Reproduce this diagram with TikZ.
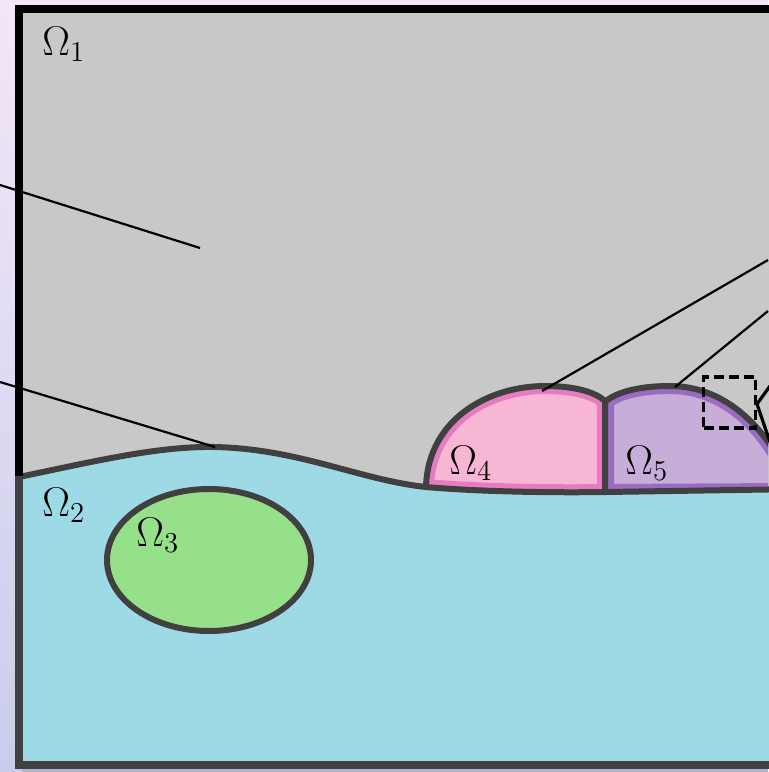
\documentclass[tikz,border=0pt]{standalone}
\usetikzlibrary{arrows.meta}
\definecolor{bgA}{HTML}{F4E6F7}
\definecolor{bgB}{HTML}{DEDAF4}
\definecolor{bgC}{HTML}{C9CDEB}
\definecolor{grayfill}{HTML}{C8C8C8}
\definecolor{bluefill}{HTML}{9DDAE5}
\definecolor{greenfill}{HTML}{97E08A}
\definecolor{pinkfill}{HTML}{F7B6D4}
\definecolor{pinkedge}{HTML}{E57BC1}
\definecolor{purpfill}{HTML}{C6AED8}
\definecolor{purpedge}{HTML}{9A6BC0}
\definecolor{darkline}{HTML}{404040}
\tikzset{
  lbl/.style={anchor=base west, inner sep=0pt, font=\fontsize{20}{24}\selectfont},
  leader/.style={black, line width=1.1pt},
  outline/.style={darkline, line width=3pt, line join=round},
}
\begin{document}
\begin{tikzpicture}[x=0.5pt,y=-0.5pt]
\useasboundingbox (0,0) rectangle (768,772);
% background
\shade[top color=bgA, bottom color=bgC, middle color=bgB] (0,0) rectangle (768,772);
\fill[black!45, opacity=0.35] (22,766) rectangle (768,773);
% regions
\fill[grayfill] (19,9) rectangle (800,765);
\fill[bluefill] (19,477) .. controls (100,460) and (160,446) .. (215,447)
  .. controls (300,449) and (360,480) .. (426,487)
  .. controls (470,491) and (540,493) .. (606,492) -- (800,489) -- (800,765) -- (19,765) -- cycle;
% Omega 4
\def\pathfour{(426,487) .. controls (428,418) and (490,386) .. (545,386)
  .. controls (575,386) and (595,392) .. (605,401) -- (605,492)
  .. controls (540,493) and (470,491) .. (426,487) -- cycle}
\fill[pinkfill] \pathfour;
\begin{scope}
  \clip \pathfour;
  \draw[pinkedge, line width=8pt] \pathfour;
\end{scope}
% Omega 5
\def\pathfive{(606,401) .. controls (620,390) and (645,386) .. (670,386)
  .. controls (720,386) and (760,420) .. (785,470) -- (785,491) -- (606,492) -- cycle}
\begin{scope}
  \clip (0,0) rectangle (768,772);
  \fill[purpfill] \pathfive;
  \begin{scope}
    \clip \pathfive;
    \draw[purpedge, line width=8pt] \pathfive;
  \end{scope}
  \draw[outline] (606,401) .. controls (620,390) and (645,386) .. (670,386)
    .. controls (720,386) and (760,420) .. (785,470);
\end{scope}
\draw[outline] (426,487) .. controls (428,418) and (490,386) .. (545,386)
  .. controls (575,386) and (595,392) .. (605,401) -- (605,492);
% interface
\draw[outline] (19,477) .. controls (100,460) and (160,446) .. (215,447)
  .. controls (300,449) and (360,480) .. (426,487)
  .. controls (470,491) and (540,493) .. (606,492) -- (800,489);
% Omega 3
\draw[outline, fill=greenfill] (209,560) ellipse [x radius=102, y radius=71];
% outer box
\draw[black, line width=4pt] (19,478) -- (19,9) -- (800,9);
\draw[darkline, line width=4pt] (19,476) -- (19,765) -- (800,765);
% labels
\node[lbl] (o1) at (42,55) {$\Omega_1$};
\node[lbl] (o2) at (42,516) {$\Omega_2$};
\node[lbl] (o3) at (136,546) {$\Omega_3$};
\node[lbl] (o4) at (449,474) {$\Omega_4$};
\node[lbl] (o5) at (625,474) {$\Omega_5$};
% leader lines
\coordinate (l1s) at (0,185);   \coordinate (l1e) at (200,248);
\coordinate (l2s) at (0,382);   \coordinate (l2e) at (215,447);
\coordinate (r1s) at (768,260); \coordinate (r1e) at (542,391);
\coordinate (r2s) at (768,311); \coordinate (r2e) at (675,387);
\draw[leader] (l1s) -- (l1e);
\draw[leader] (l2s) -- (l2e);
\draw[leader] (r1s) -- (r1e);
\draw[leader] (r2s) -- (r2e);
% dashed zoom box and arrow
\node[draw=black, line width=1.7pt, dash pattern=on 5pt off 2.5pt, minimum width=26pt, minimum height=25.5pt, inner sep=0pt] (zb) at (729.5,402.5) {};
\coordinate (a1) at (770,386);
\coordinate (tip) at (757,404);
\coordinate (a2) at (772,448);
\draw[black, line width=1.6pt] (a1) -- (tip) -- (a2);
\end{tikzpicture}
\end{document}
